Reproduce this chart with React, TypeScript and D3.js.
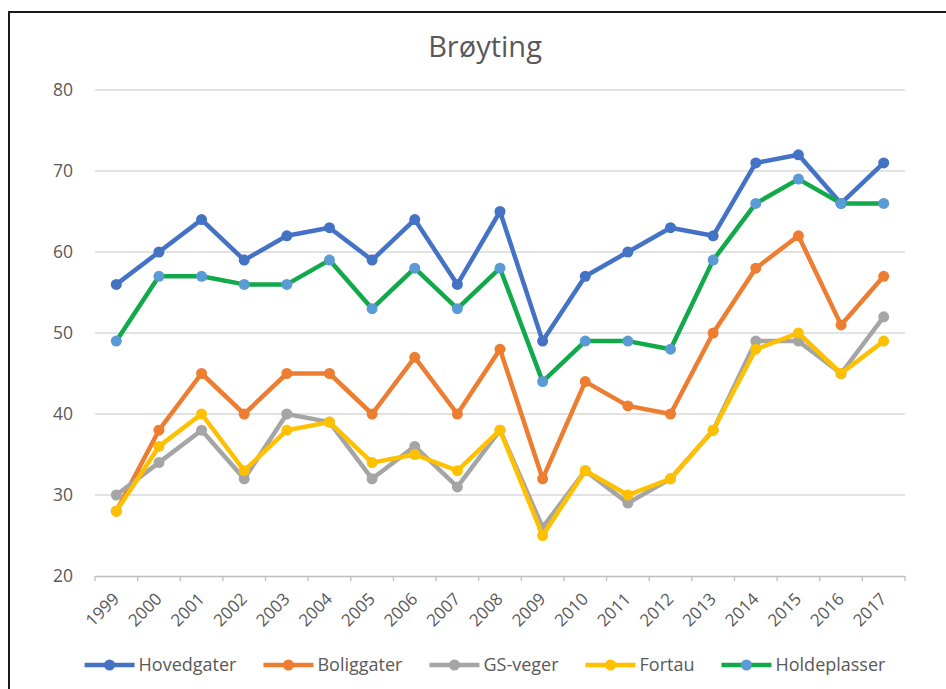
import React, { useEffect, useRef } from "react";
import * as d3 from "d3";

const years = [
  "1999", "2000", "2001", "2002", "2003", "2004", "2005", "2006", "2007", "2008",
  "2009", "2010", "2011", "2012", "2013", "2014", "2015", "2016", "2017",
];

const hovedgater = [56, 60, 64, 59, 62, 63, 59, 64, 56, 65, 49, 57, 60, 63, 62, 71, 72, 66, 71];
const boliggater = [28, 38, 45, 40, 45, 45, 40, 47, 40, 48, 32, 44, 41, 40, 50, 58, 62, 51, 57];
const gsVeger = [30, 34, 38, 32, 40, 39, 32, 36, 31, 38, 26, 33, 29, 32, 38, 49, 49, 45, 52];
const fortau = [28, 36, 40, 33, 38, 39, 34, 35, 33, 38, 25, 33, 30, 32, 38, 48, 50, 45, 49];
const holdeplasser = [49, 57, 57, 56, 56, 59, 53, 58, 53, 58, 44, 49, 49, 48, 59, 66, 69, 66, 66];

const yTicks = [20, 30, 40, 50, 60, 70, 80];

const seriesNames = ["Hovedgater", "Boliggater", "GS-veger", "Fortau", "Holdeplasser"];
const seriesValues = [hovedgater, boliggater, gsVeger, fortau, holdeplasser];
const lineColors = ["#4472C4", "#ED7D31", "#A5A5A5", "#FFC000", "#12A94B"];
const markerColors = ["#4472C4", "#ED7D31", "#A5A5A5", "#FFC000", "#5B9BD5"];

export default function App() {
  const ref = useRef<SVGSVGElement>(null);

  useEffect(() => {
    const W = 946, H = 689;
    const margin = { top: 90, right: 41, bottom: 113, left: 95 };
    const w = W - margin.left - margin.right;
    const h = H - margin.top - margin.bottom;
    const font = "'Open Sans', sans-serif";
    const textColor = "#595959";

    const svg = d3.select(ref.current).attr("width", W).attr("height", H);
    svg.selectAll("*").remove();

    svg.append("rect").attr("width", W).attr("height", H).attr("fill", "#fff");
    // chart frame, only left and top edges are in view
    svg.append("path")
      .attr("d", `M9,${H} V12 H${W}`)
      .attr("fill", "none")
      .attr("stroke", "#1a1a1a")
      .attr("stroke-width", 2);

    svg.append("text")
      .attr("x", 485)
      .attr("y", 57)
      .attr("text-anchor", "middle")
      .attr("font-family", font)
      .attr("font-size", 29)
      .attr("fill", textColor)
      .text("Brøyting");

    const g = svg.append("g").attr("transform", `translate(${margin.left},${margin.top})`);

    const x = d3.scaleBand().domain(years).range([0, w]);
    const y = d3.scaleLinear().domain([20, 80]).range([h, 0]);
    const cx = (d: string) => (x(d) as number) + x.bandwidth() / 2;

    // grid
    g.selectAll(".grid")
      .data(yTicks.filter((t) => t !== 20))
      .join("line")
      .attr("x1", 0)
      .attr("x2", w)
      .attr("y1", (d) => y(d))
      .attr("y2", (d) => y(d))
      .attr("stroke", "#d9d9d9")
      .attr("stroke-width", 1.3);

    // y labels
    g.selectAll(".ylab")
      .data(yTicks)
      .join("text")
      .attr("x", -22)
      .attr("y", (d) => y(d))
      .attr("dy", "0.35em")
      .attr("text-anchor", "end")
      .attr("font-family", font)
      .attr("font-size", 17.5)
      .attr("fill", textColor)
      .text((d) => d);

    // x axis
    const xAxis = g.append("g")
      .attr("transform", `translate(0,${h})`)
      .call(d3.axisBottom(x).tickSize(0).tickFormat(() => ""));
    xAxis.select(".domain").attr("stroke", "#bfbfbf").attr("stroke-width", 1.3);
    xAxis.selectAll(".tick").remove();
    const bounds = years.map((d) => x(d) as number).concat([w]);
    xAxis.selectAll(".tk")
      .data(bounds)
      .join("line")
      .attr("x1", (d) => d)
      .attr("x2", (d) => d)
      .attr("y1", 0)
      .attr("y2", 5)
      .attr("stroke", "#bfbfbf")
      .attr("stroke-width", 1.3);
    xAxis.selectAll(".xlab")
      .data(years)
      .join("text")
      .attr("transform", (d) => `translate(${cx(d) + 4},${24}) rotate(-45)`)
      .attr("text-anchor", "end")
      .attr("font-family", font)
      .attr("font-size", 17)
      .attr("fill", textColor)
      .text((d) => d);

    // series
    const line = d3.line<number>()
      .x((_, i) => cx(years[i]))
      .y((d) => y(d));

    seriesValues.forEach((vals, si) => {
      const sg = g.append("g");
      sg.append("path")
        .datum(vals)
        .attr("d", line)
        .attr("fill", "none")
        .attr("stroke", lineColors[si])
        .attr("stroke-width", 4.5)
        .attr("stroke-linejoin", "round")
        .attr("stroke-linecap", "round");
      sg.selectAll("circle")
        .data(vals)
        .join("circle")
        .attr("cx", (_, i) => cx(years[i]))
        .attr("cy", (d) => y(d))
        .attr("r", 5.5)
        .attr("fill", markerColors[si]);
    });

    // legend
    const leg = svg.append("g");
    const items = leg.selectAll("g")
      .data(seriesNames)
      .join("g");
    items.append("line")
      .attr("x1", 0).attr("x2", 50).attr("y1", 0).attr("y2", 0)
      .attr("stroke", (_, i) => lineColors[i])
      .attr("stroke-width", 4.5);
    items.append("circle")
      .attr("cx", 25).attr("cy", 0).attr("r", 5.5)
      .attr("fill", (_, i) => markerColors[i]);
    const labels = items.append("text")
      .attr("x", 54)
      .attr("dy", "0.35em")
      .attr("font-family", font)
      .attr("font-size", 18)
      .attr("fill", textColor)
      .text((d) => d);
    const widths: number[] = [];
    labels.each(function () {
      widths.push(54 + (this as SVGTextElement).getComputedTextLength());
    });
    const gap = 27;
    const total = d3.sum(widths) + gap * (widths.length - 1);
    let pos = 485 - total / 2;
    items.attr("transform", (_, i) => {
      const t = `translate(${pos},665)`;
      pos += widths[i] + gap;
      return t;
    });
  }, []);

  return (
    <svg ref={ref} style={{ position: "absolute", left: 0, top: 0 }}></svg>
  );
}
